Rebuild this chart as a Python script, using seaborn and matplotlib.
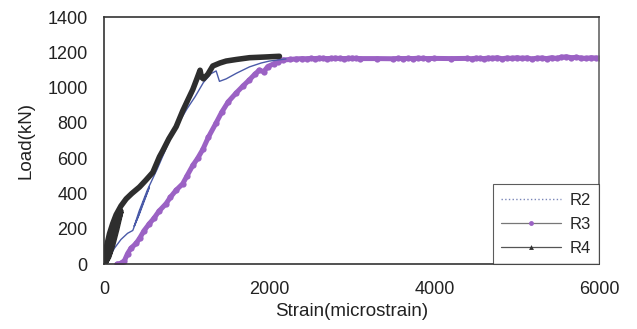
import matplotlib
matplotlib.use("Agg")
import matplotlib.pyplot as plt
import seaborn as sns
import pandas as pd
from matplotlib.lines import Line2D

# ---- data ----
r2_strain = [0, 60, 120, 200, 280, 343, 400, 470, 545, 500, 420, 360, 420, 520, 640, 788,
             900, 1000, 1100, 1200, 1293, 1354, 1394, 1475, 1600, 1758, 1900, 2000, 2200]
r2_load = [0, 40, 90, 140, 175, 191, 260, 350, 437, 380, 280, 215, 300, 420, 540, 700,
           800, 880, 950, 1030, 1080, 1095, 1036, 1050, 1082, 1118, 1140, 1151, 1163]

r3_strain = [150, 200, 242, 280, 320, 384, 430, 480, 545, 600, 660, 747, 800, 870, 949, 1000,
             1071, 1130, 1192, 1260, 1354, 1420, 1500, 1596, 1680, 1758, 1820, 1879, 1930, 1980,
             2050, 2100, 2162, 2250, 2320, 2400, 2450, 2500, 2550, 2600, 2650, 2700, 2750, 2800,
             2850, 2900, 2950, 3000, 3050, 3100, 3300, 3500, 3560, 3620, 3680, 3740, 3800, 3860,
             3920, 4000, 4200, 4400, 4450, 4500, 4550, 4600, 4650, 4700, 4760, 4820, 4880, 4940,
             5000, 5060, 5120, 5180, 5240, 5300, 5360, 5420, 5480, 5540, 5600, 5660, 5720, 5780,
             5840, 5900, 5960, 6000]
r3_load = [0, 5, 20, 60, 90, 118, 150, 190, 230, 260, 300, 343, 380, 420, 456, 500,
           560, 600, 650, 720, 801, 860, 920, 970, 1010, 1045, 1075, 1100, 1090, 1120,
           1135, 1145, 1157, 1160, 1163, 1165, 1164, 1166, 1165, 1167, 1166, 1165, 1166, 1167,
           1166, 1165, 1166, 1167, 1166, 1165, 1165, 1164, 1166, 1165, 1166, 1165, 1167, 1166,
           1165, 1166, 1165, 1166, 1164, 1167, 1166, 1165, 1168, 1166, 1170, 1164, 1168, 1166,
           1170, 1166, 1169, 1163, 1167, 1168, 1165, 1170, 1166, 1173, 1175, 1170, 1172, 1168,
           1166, 1170, 1168, 1166]

r4_strain = [0, 60, 110, 160, 200, 150, 100, 50, 0, 20, 61, 100, 141, 200, 263, 330, 424,
             500, 586, 667, 707, 780, 869, 950, 1010, 1071, 1120, 1159, 1175, 1200, 1253,
             1313, 1400, 1475, 1600, 1758, 1950, 2121]
r4_load = [0, 60, 150, 240, 300, 200, 110, 40, 0, 90, 173, 230, 280, 330, 370, 400, 437,
           475, 520, 609, 643, 710, 779, 870, 930, 990, 1050, 1099, 1060, 1050, 1076,
           1123, 1140, 1151, 1160, 1170, 1174, 1178]

x_ticks = [0, 2000, 4000, 6000]
y_ticks = [0, 200, 400, 600, 800, 1000, 1200, 1400]
grid_levels = [1000, 1200]

df2 = pd.DataFrame({"strain": r2_strain, "load": r2_load})
df3 = pd.DataFrame({"strain": r3_strain, "load": r3_load})
df4 = pd.DataFrame({"strain": r4_strain, "load": r4_load})

sns.set_theme(style="white")
plt.rcParams["font.family"] = ["Liberation Sans", "DejaVu Sans"]

fig = plt.figure(figsize=(6.37, 3.29), dpi=100)
ax = fig.add_axes([0.164, 0.197, 0.777, 0.751])

purple = "#9b62c4"
dark = "#2e2e2e"
blue = "#4a5aa8"

sns.lineplot(data=df3, x="strain", y="load", ax=ax, sort=False, color=purple, lw=3.6,
             marker="o", markersize=4.5, markeredgewidth=0, estimator=None)
sns.lineplot(data=df2, x="strain", y="load", ax=ax, sort=False, color=blue, lw=1.0,
             estimator=None)
sns.lineplot(data=df4, x="strain", y="load", ax=ax, sort=False, color=dark, lw=4.0,
             estimator=None)

ax.set_xlim(0, 6000)
ax.set_ylim(0, 1400)
ax.set_xticks(x_ticks)
ax.set_yticks(y_ticks)
ax.set_yticks(grid_levels, minor=True)
ax.tick_params(axis="both", which="both", length=0, labelsize=13, colors="#222222")
ax.tick_params(axis="y", pad=12)
ax.tick_params(axis="x", pad=12)
ax.yaxis.grid(True, which="minor", color="#dcdcdc", lw=0.9)
ax.set_axisbelow(True)
for s in ax.spines.values():
    s.set_color("#333333")
    s.set_linewidth(1.2)
ax.spines["right"].set_color("#666666")
ax.set_xlabel("Strain(microstrain)", fontsize=13.5, color="#222222", labelpad=4)
ax.set_ylabel("Load(kN)", fontsize=13.5, color="#222222", labelpad=9)

handles = [
    Line2D([], [], color="#7a86b8", lw=1.0, ls=":"),
    Line2D([], [], color="#777777", lw=0.9, marker="o", markersize=3.5,
           markerfacecolor=purple, markeredgewidth=0),
    Line2D([], [], color="#555555", lw=0.9, marker="^", markersize=3.5,
           markerfacecolor="#333333", markeredgewidth=0),
]
leg = ax.legend(handles, ["R2", "R3", "R4"], loc="lower right", fontsize=12,
                frameon=True, fancybox=False, borderaxespad=0.0, handlelength=3.6,
                labelspacing=0.55, borderpad=0.5, handletextpad=0.5)
leg.get_frame().set_edgecolor("#333333")
leg.get_frame().set_linewidth(0.8)

fig.savefig("out.png", dpi=100)
